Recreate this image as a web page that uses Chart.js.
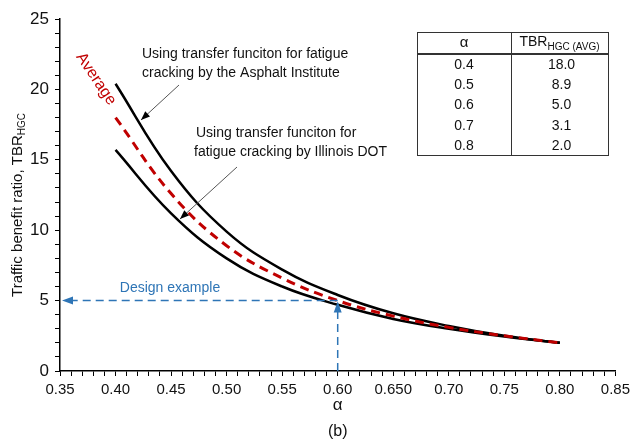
<!DOCTYPE html>
<html lang="en">
<head>
<meta charset="UTF-8">
<script src="https://cdn.jsdelivr.net/npm/chart.js"></script>
<title>TBR vs alpha</title>
<style>
  body { margin: 0; background: #fff; }
  .box { width: 635px; height: 441px; position: relative; }
</style>
</head>
<body>
<div class="box"><canvas id="grafico"></canvas></div>
<script>
// curve values
const alphaPts = [0.40, 0.45, 0.50, 0.55, 0.60, 0.65, 0.70, 0.75, 0.80];
const upperTBR = [20.4, 14.2, 9.9, 7.2, 5.4, 4.1, 3.2, 2.5, 2.0];
const avgTBR   = [18.0, 12.6, 8.9, 6.6, 5.0, 3.9, 3.1, 2.5, 2.0];
const lowerTBR = [15.7, 11.2, 8.0, 6.0, 4.7, 3.7, 3.0, 2.45, 2.0];

const xTickLabels = ['0.35', '0.40', '0.45', '0.50', '0.55', '0.60', '0.650', '0.70', '0.75', '0.80', '0.85'];
const yTickLabels = ['0', '5', '10', '15', '20', '25'];

// small table in the corner
const tableAlpha = ['0.4', '0.5', '0.6', '0.7', '0.8'];
const tableTBR = ['18.0', '8.9', '5.0', '3.1', '2.0'];

const designAlpha = 0.6;
const designTBR = 5;

const FONT = '"Liberation Sans", Arial, sans-serif';
const RED = '#C00000';
const BLUE = '#2E75B6';

function pts(ys) {
    return alphaPts.map((a, i) => ({ x: a, y: ys[i] }));
}

function arrowHead(c, x, y, ang, len, wid, color) {
    c.save();
    c.translate(x, y);
    c.rotate(ang);
    c.fillStyle = color;
    c.beginPath();
    c.moveTo(0, 0);
    c.lineTo(-len, -wid / 2);
    c.lineTo(-len, wid / 2);
    c.closePath();
    c.fill();
    c.restore();
}

function seta(c, x1, y1, x2, y2) {
    c.save();
    c.strokeStyle = '#555';
    c.lineWidth = 1;
    c.beginPath();
    c.moveTo(x1, y1);
    c.lineTo(x2, y2);
    c.stroke();
    c.restore();
    arrowHead(c, x2, y2, Math.atan2(y2 - y1, x2 - x1), 9, 7, '#000');
}

const extras = {
    id: 'extras',
    afterDraw(chart) {
        const c = chart.ctx;
        const xs = chart.scales.x, ys = chart.scales.y;
        const area = chart.chartArea;

        // design example
        const dx = xs.getPixelForValue(designAlpha);
        const dy = ys.getPixelForValue(designTBR);
        c.save();
        c.strokeStyle = BLUE;
        c.lineWidth = 1.5;
        c.setLineDash([8, 5]);
        c.beginPath();
        c.moveTo(dx, dy);
        c.lineTo(area.left + 10, dy);
        c.moveTo(dx, area.bottom);
        c.lineTo(dx, dy + 8);
        c.stroke();
        c.restore();
        arrowHead(c, area.left + 2, dy, Math.PI, 11, 8, BLUE);
        arrowHead(c, dx, dy + 1, -Math.PI / 2, 11, 8, BLUE);
        c.fillStyle = BLUE;
        c.font = '14px ' + FONT;
        c.textAlign = 'center';
        c.textBaseline = 'middle';
        c.fillText('Design example', 170, 288);

        // y title with subscript
        c.save();
        c.translate(18, 205);
        c.rotate(-Math.PI / 2);
        c.fillStyle = '#111';
        const main = 'Traffic benefit ratio, TBR';
        c.font = '15px ' + FONT;
        const w1 = c.measureText(main).width;
        c.font = '10px ' + FONT;
        const w2 = c.measureText('HGC').width;
        const x0 = -(w1 + w2) / 2;
        c.textAlign = 'left';
        c.textBaseline = 'middle';
        c.font = '15px ' + FONT;
        c.fillText(main, x0, 0);
        c.font = '10px ' + FONT;
        c.fillText('HGC', x0 + w1, 4);
        c.restore();

        // x title and caption
        c.fillStyle = '#111';
        c.textAlign = 'center';
        c.textBaseline = 'middle';
        c.font = '17px ' + FONT;
        c.fillText('\u03B1', (area.left + area.right) / 2, 405);
        c.font = '16px ' + FONT;
        c.fillText('(b)', (area.left + area.right) / 2, 432);

        // curve notes
        c.font = '14px ' + FONT;
        c.textAlign = 'left';
        c.fillStyle = '#111';
        c.fillText('Using transfer funciton for fatigue', 142, 54);
        c.fillText('cracking by the Asphalt Institute', 142, 73);
        c.fillText('Using transfer funciton for', 196, 133);
        c.fillText('fatigue cracking by Illinois DOT', 194, 152);
        seta(c, 179, 85, 141, 120);
        seta(c, 237, 167, 180, 219);

        // rotated "Average"
        c.save();
        c.translate(96, 79);
        c.rotate(0.98);
        c.fillStyle = RED;
        c.font = '16px ' + FONT;
        c.textAlign = 'center';
        c.fillText('Average', 0, 0);
        c.restore();

        // table
        const tL = 417, tR = 608, tT = 32, tB = 155, tMid = 511, hLine = 54;
        c.save();
        c.strokeStyle = '#333';
        c.lineWidth = 1;
        c.strokeRect(tL + 0.5, tT + 0.5, tR - tL, tB - tT);
        c.beginPath();
        c.moveTo(tMid + 0.5, tT);
        c.lineTo(tMid + 0.5, tB);
        c.stroke();
        c.lineWidth = 2;
        c.beginPath();
        c.moveTo(tL, hLine);
        c.lineTo(tR, hLine);
        c.stroke();
        c.restore();

        c.fillStyle = '#111';
        c.textAlign = 'center';
        c.textBaseline = 'middle';
        c.font = '15px ' + FONT;
        c.fillText('\u03B1', (tL + tMid) / 2, 43);
        c.font = '14px ' + FONT;
        const tw1 = c.measureText('TBR').width;
        c.font = '10px ' + FONT;
        const tw2 = c.measureText('HGC (AVG)').width;
        const tx = (tMid + tR) / 2 - (tw1 + tw2) / 2;
        c.textAlign = 'left';
        c.font = '14px ' + FONT;
        c.fillText('TBR', tx, 42);
        c.font = '10px ' + FONT;
        c.fillText('HGC (AVG)', tx + tw1, 47);
        c.textAlign = 'center';
        c.font = '14px ' + FONT;
        tableAlpha.forEach((a, i) => {
            const yy = 65 + i * 20.3;
            c.fillText(a, (tL + tMid) / 2, yy);
            c.fillText(tableTBR[i], (tMid + tR) / 2 + 2, yy);
        });
    }
};

new Chart(document.getElementById('grafico'), {
    type: 'line',
    data: {
        datasets: [
            {
                label: 'Average',
                data: pts(avgTBR),
                borderColor: RED,
                borderWidth: 3,
                borderDash: [9, 6],
                pointRadius: 0,
                tension: 0.4,
                fill: false
            },
            {
                label: 'Asphalt Institute',
                data: pts(upperTBR),
                borderColor: '#000',
                borderWidth: 2.5,
                pointRadius: 0,
                tension: 0.4,
                fill: false
            },
            {
                label: 'Illinois DOT',
                data: pts(lowerTBR),
                borderColor: '#000',
                borderWidth: 2.5,
                pointRadius: 0,
                tension: 0.4,
                fill: false
            }
        ]
    },
    options: {
        responsive: true,
        maintainAspectRatio: false,
        animation: false,
        layout: { padding: { left: 0, right: 16, top: 19, bottom: 0 } },
        plugins: {
            legend: { display: false },
            tooltip: { enabled: false }
        },
        scales: {
            x: {
                type: 'linear',
                min: 0.35,
                max: 0.85,
                afterFit: s => { s.height = 70; },
                border: { color: '#000', width: 1.5 },
                grid: { drawOnChartArea: false, color: '#000', tickLength: 5 },
                ticks: {
                    stepSize: 0.01,
                    autoSkip: false,
                    maxRotation: 0,
                    padding: 5,
                    color: '#111',
                    font: { family: FONT, size: 15 },
                    callback: v => {
                        const k = Math.round(v * 100);
                        return k % 5 === 0 ? xTickLabels[(k - 35) / 5] : '';
                    }
                }
            },
            y: {
                min: 0,
                max: 25,
                afterFit: s => { s.width = 60; },
                border: { color: '#000', width: 1.5 },
                grid: { drawOnChartArea: false, color: '#000', tickLength: 5 },
                ticks: {
                    stepSize: 1,
                    autoSkip: false,
                    padding: 6,
                    color: '#111',
                    font: { family: FONT, size: 17 },
                    callback: v => {
                        const k = Math.round(v);
                        return k % 5 === 0 ? yTickLabels[k / 5] : '';
                    }
                }
            }
        }
    },
    plugins: [extras]
});
</script>
</body>
</html>
